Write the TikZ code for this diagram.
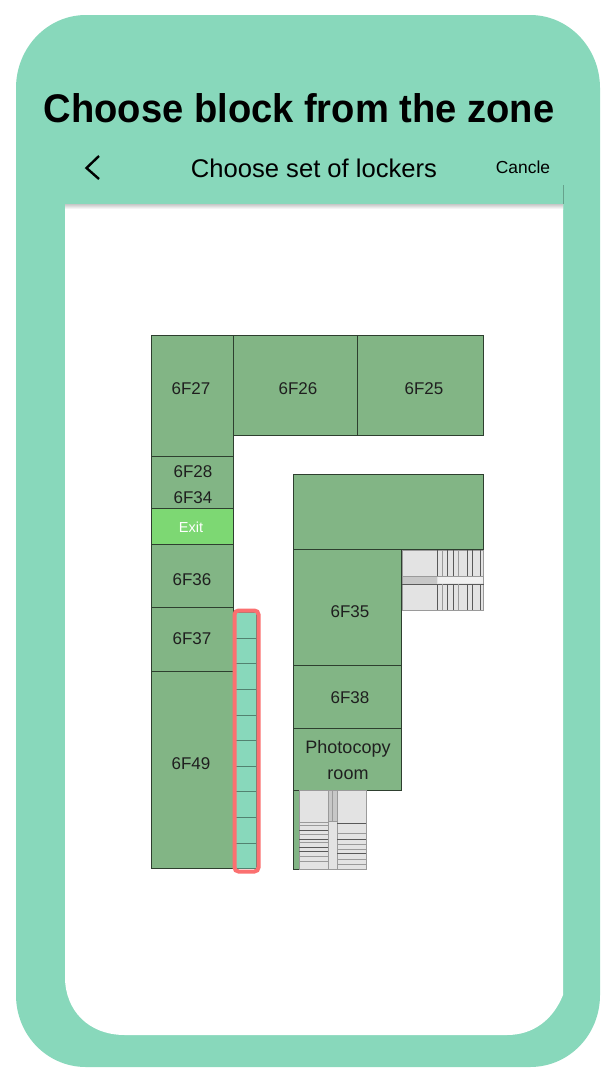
\documentclass[tikz,border=0pt]{standalone}
\usepackage{fontspec}
\setmainfont{Liberation Sans}
\newfontfamily\titlefont[FakeStretch=0.953]{Liberation Sans}
\usetikzlibrary{calc}
\definecolor{mint}{HTML}{88D8BB}
\definecolor{roomg}{HTML}{82B585}
\definecolor{exitg}{HTML}{7DD873}
\definecolor{redb}{HTML}{FB7070}
\definecolor{stairf}{HTML}{E3E3E3}
\definecolor{stairl}{HTML}{9A9A9A}
\tikzset{
  x=1pt,y=-1pt,
  room/.style={draw=black!65!roomg,line width=.7pt,fill=roomg},
  roomlabel/.style={font=\fontsize{17}{20}\selectfont,text=black!88,inner sep=0pt,align=center},
  stair/.style={draw=stairl,line width=.9pt,fill=stairf},
  tread/.style={draw=black!65,line width=.8pt},
  treadl/.style={draw=stairl,line width=1pt},
  cellbox/.style={draw=black!40!mint,line width=.7pt,fill=mint},
}
\begin{document}
\begin{tikzpicture}
\useasboundingbox (0,0) rectangle (612,1076);
\fill[white] (0,0) rectangle (612,1076);
% phone body
\path[fill=mint] (16,88) .. controls (16,48) and (47,15) .. (86,15) -- (530,15)
  .. controls (569,15) and (600,48) .. (600,88) -- (600,995)
  .. controls (600,1035) and (569,1067) .. (530,1067) -- (86,1067)
  .. controls (47,1067) and (16,1035) .. (16,995) -- cycle;
% screen
\path[fill=white] (65,204) -- (563,204) -- (563,995)
  .. controls (553,1020) and (533,1035) .. (507,1035) -- (125,1035)
  .. controls (88,1035) and (65,1010) .. (65,977) -- cycle;
\shade[top color=black!22,bottom color=white] (65,204) rectangle (563,209);
\draw[black!25!mint,line width=.5pt] (563,185) -- (563,204);
% texts
\node[font=\titlefont\bfseries\fontsize{40}{46}\selectfont,inner sep=0pt] (title) at (299,108) {Choose block from the zone};
\node[font=\fontsize{25.6}{30}\selectfont,inner sep=0pt] (sub) at (314,168) {Choose set of lockers};
\node[font=\fontsize{17.4}{22}\selectfont,inner sep=0pt] (cancle) at (523,167) {Cancle};
\coordinate (bk1) at (99,156); \coordinate (bk2) at (86.5,168); \coordinate (bk3) at (99,179);
\draw[black,line width=2.4pt] (bk1) -- (bk2) -- (bk3);
% rooms
\draw[room] (151,335) rectangle (233,456);
\draw[room] (233,335) rectangle (357,435);
\draw[room] (357,335) rectangle (483.7,435);
\draw[room] (151,456) rectangle (233,508);
\draw[room,fill=exitg] (151,508) rectangle (233,544);
\draw[room] (151,544) rectangle (233,607);
\draw[room] (151,607) rectangle (233,671);
\draw[room] (151,671) rectangle (233,868);
\draw[room] (293,474) rectangle (483.7,549);
\draw[room] (293,549) rectangle (401,665);
\draw[room] (293,665) rectangle (401,728);
\draw[room] (293,728) rectangle (401,790);
\node[roomlabel] (r27) at (191,389) {6F27};
\node[roomlabel] (r26) at (298,389) {6F26};
\node[roomlabel] (r25) at (424,389) {6F25};
\node[roomlabel] (r28) at (193,472) {6F28};
\node[roomlabel] (r34) at (193,498) {6F34};
\node[roomlabel,text=white,font=\fontsize{14.5}{18}\selectfont] (exit) at (191,527) {Exit};
\node[roomlabel] (r36) at (192,580) {6F36};
\node[roomlabel] (r37) at (192,639) {6F37};
\node[roomlabel] (r49) at (191,764) {6F49};
\node[roomlabel] (r35) at (350,612) {6F35};
\node[roomlabel] (r38) at (350,698) {6F38};
\node[roomlabel,font=\fontsize{18}{20}\selectfont] (ph1) at (348,749) {Photocopy};
\node[roomlabel,font=\fontsize{18}{20}\selectfont] (ph2) at (348,775) {room};
% upper stairs
\draw[stair] (402,550) rectangle (483.7,610);
\fill[black!22] (403,576) rectangle (437,584);
\fill[black!6] (438,577) rectangle (483,583);
\draw[treadl] (402,576) -- (483.7,576);
\draw[tread] (402,584) -- (483.7,584);
\foreach \x/\s in {437/tread,442/treadl,447/tread,453/tread,458/treadl,467/tread,472/tread,480/tread}
  \draw[\s] (\x,550) -- (\x,576) (\x,584) -- (\x,610);
% lower stairs
\draw[room,line width=.9pt] (293,790) rectangle (299,869);
\draw[stair] (299,790) rectangle (366,869);
\draw[stairl,line width=.9pt,fill=black!22] (328,790) rectangle (337,821);
\draw[stairl,line width=.9pt,fill=stairf] (328,821) rectangle (337,869);
\draw[stairl,line width=.9pt] (332,790) -- (332,821);
\foreach \y/\s in {822/treadl,825/treadl,830/tread,834/treadl,839/tread,842/treadl,847/tread,851/tread,856/treadl,861/treadl}
  \draw[\s] (299,\y) -- (328,\y);
\foreach \y/\s in {823/tread,833/treadl,839/tread,844/treadl,849/treadl,853/tread,859/treadl,864/treadl}
  \draw[\s] (337,\y) -- (366,\y);
% lockers
\foreach \i in {0,...,9}
  \draw[cellbox] (235,{612.5+25.6*\i}) rectangle (256.5,{612.5+25.6*(\i+1)});
\draw[redb,line width=4pt,rounded corners=4pt] (234.5,610.5) rectangle (258.5,871.5);
\end{tikzpicture}
\end{document}
